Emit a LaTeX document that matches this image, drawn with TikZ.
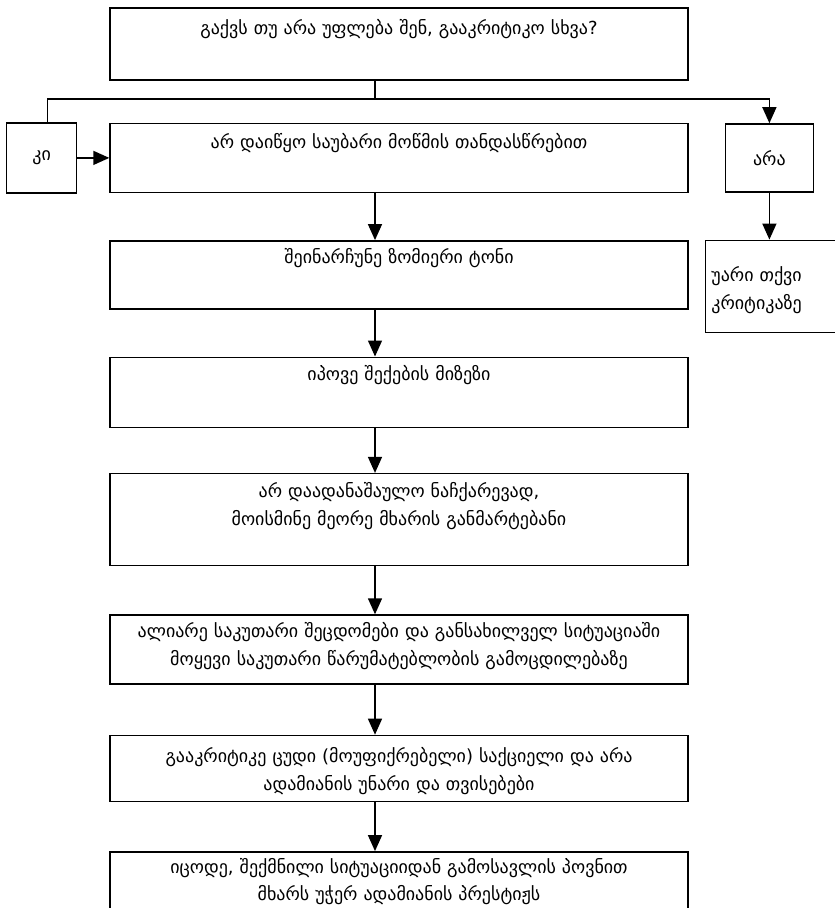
\documentclass[tikz,border=0pt]{standalone}
\usepackage{fontspec}
\setmainfont{DejaVu Sans}
\usetikzlibrary{positioning,arrows.meta}

\tikzset{
  box/.style={draw, line width=1.4pt, inner sep=0pt, text width=578pt, align=center,
    font=\fontsize{18}{28}\selectfont},
  side/.style={draw, line width=1.4pt, inner sep=0pt, align=center,
    font=\fontsize{18}{28}\selectfont},
  arr/.style={line width=1.4pt, -{Triangle[length=16pt,width=14pt]}},
  link/.style={line width=1.4pt},
}

\begin{document}
\begin{tikzpicture}
  \useasboundingbox (0,0) rectangle (835pt,-908pt);

  % Nodes
  \node[box, text height=26pt, text depth=46pt] (Q) at (399pt,-44pt) {გაქვს თუ არა უფლება შენ, გააკრიტიკო სხვა?};
  \node[box, below=42pt of Q, text height=25pt, text depth=44pt] (S1) {არ დაიწყო საუბარი მოწმის თანდასწრებით};
  \node[box, below=47pt of S1, text height=23pt, text depth=45pt] (S2) {შეინარჩუნე ზომიერი ტონი};
  \node[box, below=47pt of S2, text height=23pt, text depth=47pt] (S3) {იპოვე შექების მიზეზი};
  \node[box, below=45pt of S3, text height=24pt, text depth=68pt] (S4) {არ დაადანაშაულო ნაჩქარევად,\\ მოისმინე მეორე მხარის განმარტებანი};
  \node[box, below=48pt of S4, text height=22pt, text depth=47pt] (S5) {ალიარე საკუთარი შეცდომები და განსახილველ სიტუაციაში\\ მოყევი საკუთარი წარუმატებლობის გამოცდილებაზე};
  \node[box, below=50pt of S5, text height=27pt, text depth=39pt] (S6) {გააკრიტიკე ცუდი (მოუფიქრებელი) საქციელი და არა\\ ადამიანის უნარი და თვისებები};
  \node[box, below=49pt of S6, text height=22pt, text depth=48pt, font=\fontsize{18}{27}\selectfont] (S7) {იცოდე, შექმნილი სიტუაციიდან გამოსავლის პოვნით\\ მხარს უჭერ ადამიანის პრესტიჟს};

  \node[side, left=32pt of S1, minimum width=70pt, minimum height=70pt] (YES) {კი};
  \node[side, right=36pt of S1, minimum width=88pt, minimum height=68pt] (NO) {არა};
  \node[side, below=47pt of NO, xshift=4pt, text width=124pt, inner xsep=6pt, align=left,
    text height=41pt, text depth=51pt] (REF) {უარი თქვი\\ კრიტიკაზე};

  \coordinate (split) at (375pt,-99pt);

  % Edges
  \draw[link] (Q.south -| split) -- (split);
  \draw[link] ([xshift=6pt]YES.north) |- (split);
  \draw[arr] (split) -| (NO.north);
  \draw[arr] (YES) -- (S1);
  \draw[arr] (NO) -- (REF.north -| NO);
  \draw[arr] (S1.south -| split) -- (S2.north -| split);
  \draw[arr] (S2.south -| split) -- (S3.north -| split);
  \draw[arr] (S3.south -| split) -- (S4.north -| split);
  \draw[arr] (S4.south -| split) -- (S5.north -| split);
  \draw[arr] (S5.south -| split) -- (S6.north -| split);
  \draw[arr] (S6.south -| split) -- (S7.north -| split);

\end{tikzpicture}
\end{document}
